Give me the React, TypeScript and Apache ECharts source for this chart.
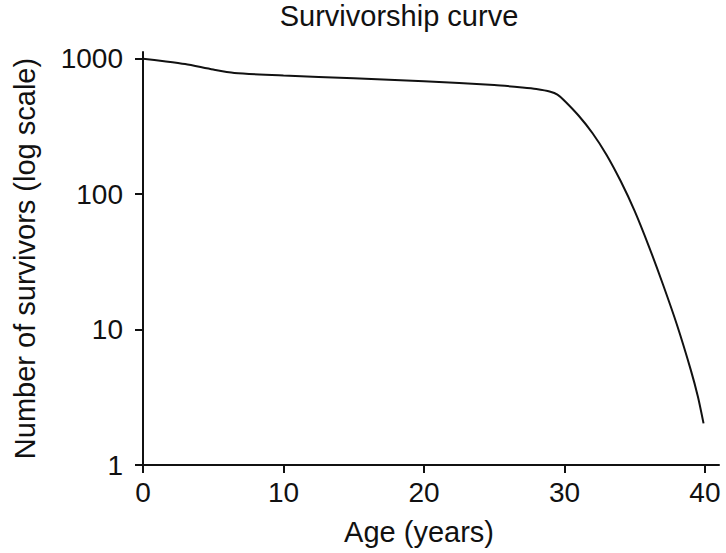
import React, { useEffect, useRef } from "react";
import * as echarts from "echarts";

const ages = [0, 1.5, 3, 5, 6.5, 10, 15, 20, 25, 27, 28, 29, 29.5, 30, 31, 32, 33, 34, 35, 36, 37, 38, 39, 39.5, 39.9];
const survivors = [1000, 960, 915, 832, 786, 752, 718, 682, 640, 614, 598, 571, 543, 490, 381, 282, 195, 125, 75, 41.4, 21.7, 10.9, 5.0, 3.19, 2.03];
const xTicks = [0, 10, 20, 30, 40];
const yTicks = [1, 10, 100, 1000];

const titleText = "Survivorship curve";
const xName = "Age (years)";
const yName = "Number of survivors (log scale)";

const FONT = "'Liberation Sans', Arial, Helvetica, sans-serif";
const INK = "#111111";

export default function App() {
  const ref = useRef<HTMLDivElement>(null);
  useEffect(() => {
    if (!ref.current) return;
    const chart = echarts.init(ref.current, null, { renderer: "svg" });
    const data = ages.map((a, i) => [a, survivors[i]]);
    chart.setOption({
      animation: false,
      backgroundColor: "#ffffff",
      title: {
        text: titleText,
        left: 399,
        top: 1,
        textAlign: "center",
        padding: 0,
        textStyle: { fontFamily: FONT, fontSize: 29, fontWeight: "normal", color: INK },
      },
      grid: { left: 143, right: 7, top: 52, bottom: 88, containLabel: false },
      xAxis: {
        type: "value",
        min: 0,
        max: 41,
        interval: 10,
        name: xName,
        nameLocation: "middle",
        nameGap: 52,
        nameTextStyle: { fontFamily: FONT, fontSize: 29, color: INK, padding: [0, 24, 0, 0] },
        axisLine: { show: true, lineStyle: { color: INK, width: 2 } },
        axisTick: { show: true, length: 8, inside: false, lineStyle: { color: INK, width: 2 }, customValues: xTicks },
        axisLabel: {
          fontFamily: FONT,
          fontSize: 28,
          color: INK,
          margin: 13,
          customValues: xTicks,
          formatter: (v: number) => String(Math.round(v)),
        },
        splitLine: { show: false },
      },
      yAxis: {
        type: "log",
        logBase: 10,
        min: 1,
        max: 1122,
        name: yName,
        nameLocation: "middle",
        nameGap: 104,
        nameRotate: 90,
        nameTextStyle: { fontFamily: FONT, fontSize: 29, color: INK },
        axisLine: { show: true, onZero: false, lineStyle: { color: INK, width: 2 } },
        axisTick: { show: true, length: 8, inside: false, lineStyle: { color: INK, width: 2 }, customValues: yTicks },
        axisLabel: {
          fontFamily: FONT,
          fontSize: 28,
          color: INK,
          margin: 20,
          customValues: yTicks,
          formatter: (v: number) => String(Math.round(v)),
        },
        splitLine: { show: false },
        minorTick: { show: false },
      },
      series: [
        {
          type: "line",
          data,
          showSymbol: false,
          symbol: "none",
          smooth: 0.25,
          lineStyle: { color: INK, width: 2 },
          silent: true,
        },
      ],
    });
    return () => chart.dispose();
  }, []);
  return (
    <div
      ref={ref}
      style={{ position: "absolute", left: 0, top: 0, width: 726, height: 553, background: "#fff" }}
    />
  );
}
